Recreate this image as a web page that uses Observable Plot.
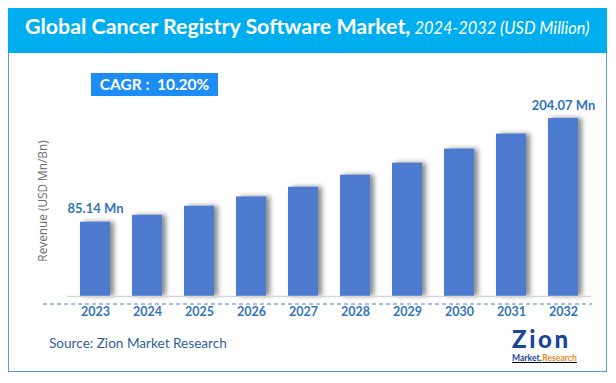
<!DOCTYPE html>
<html>
<head>
<meta charset="utf-8">
<script src="https://cdn.jsdelivr.net/npm/d3@7"></script>
<script src="https://cdn.jsdelivr.net/npm/@observablehq/plot@0.6"></script>
<style>
  html, body { margin: 0; padding: 0; background: #fff; }
  #wrap { position: relative; width: 616px; height: 383px; overflow: hidden; font-family: Lato, "Open Sans", sans-serif; }
  #frame { position: absolute; left: 8px; top: 8px; width: 597px; height: 362px; border: 1.5px solid #5b9bd5; box-sizing: content-box; }
  #titlebar { position: absolute; left: 8px; top: 8px; width: 599px; height: 45px; background: #00aeef; }
  #title { position: absolute; left: 25px; top: 16px; white-space: nowrap; color: #fff; line-height: 1; }
  #title .main { font-weight: bold; font-size: 21.4px; }
  #title .sub { font-style: italic; font-size: 16.4px; }
  #cagr { position: absolute; left: 91px; top: 73px; width: 127px; height: 23px; background: #1e8cf5; color: #fff; font-weight: bold; font-size: 15.5px; line-height: 23px; text-align: center; white-space: nowrap; }
  #ylabel { position: absolute; left: 42px; top: 201px; transform: translate(-50%, -50%) rotate(-90deg); white-space: nowrap; font-family: "Open Sans", sans-serif; font-size: 11.8px; color: #6a6a6a; }
  #source { position: absolute; left: 49px; top: 335px; font-size: 13.6px; color: #2f5f9e; white-space: nowrap; }
  #zion { position: absolute; left: 512px; top: 327px; font-family: Lato, sans-serif; font-weight: 900; font-size: 24px; color: #1b4596; letter-spacing: 2.6px; line-height: 24px; white-space: nowrap; }
  #mr { position: absolute; left: 512px; top: 354px; font-size: 8.6px; font-weight: bold; line-height: 9px; white-space: nowrap; text-decoration: underline; }
  #mr .m { color: #1b4596; }
  #mr .r { color: #ec8a1d; margin-left: 0.5px; }
  #chart { position: absolute; left: 0; top: 0; }
  #chart g[aria-label="bar"] { filter: drop-shadow(4px 0px 2.5px rgba(0,0,0,0.45)); }
</style>
</head>
<body>
<div id="wrap">
  <div id="frame"></div>
  <div id="titlebar"></div>
  <div id="title"><span class="main">Global Cancer Registry Software Market,</span> <span class="sub">2024-2032 (USD Million)</span></div>
  <div id="chart"></div>
  <div id="cagr">CAGR :&nbsp; 10.20%</div>
  <div id="ylabel">Revenue (USD Mn/Bn)</div>
  <div id="source">Source: Zion Market Research</div>
  <div id="zion">Zion</div>
  <div id="mr"><span class="m">Market.</span><span class="r">Research</span></div>
</div>
<script>
const years = ["2023", "2024", "2025", "2026", "2027", "2028", "2029", "2030", "2031", "2032"];
const revenue = [85.14, 93.0, 103.4, 114.1, 125.2, 139.0, 152.8, 168.9, 186.1, 204.07];
const labelYears = ["2023", "2032"];
const labelTexts = ["85.14 Mn", "204.07 Mn"];

const data = years.map((year, i) => ({year, value: revenue[i]}));
const labels = labelYears.map((year, i) => ({year, value: revenue[years.indexOf(year)], text: labelTexts[i]}));

const chart = Plot.plot({
  width: 616,
  height: 383,
  marginLeft: 67,
  marginRight: 25,
  marginTop: 104,
  marginBottom: 87,
  style: {background: "transparent", fontFamily: "Lato, 'Open Sans', sans-serif", overflow: "visible"},
  x: {domain: years, paddingInner: 0.43, paddingOuter: 0.215, label: null},
  y: {domain: [0, 220], axis: null},
  marks: [
    Plot.barY(data, {x: "year", y: "value", fill: "#4d7bd0"}),
    Plot.ruleY([0], {stroke: "#d6d6d6", strokeWidth: 1.5}),
    Plot.ruleY([0], {dy: 7.5, insetLeft: -24, insetRight: -1, stroke: "#4a7fc4", strokeWidth: 1, strokeDasharray: "4,3"}),
    Plot.text(labels, {x: "year", y: "value", text: "text", dy: -13, fill: "#3274ba", fontWeight: "bold", fontSize: 13}),
    Plot.axisX({tickSize: 0, tickPadding: 11, fontWeight: "bold", color: "#3274ba", fontSize: 12.5, label: null})
  ]
});
document.getElementById("chart").appendChild(chart);
</script>
</body>
</html>
